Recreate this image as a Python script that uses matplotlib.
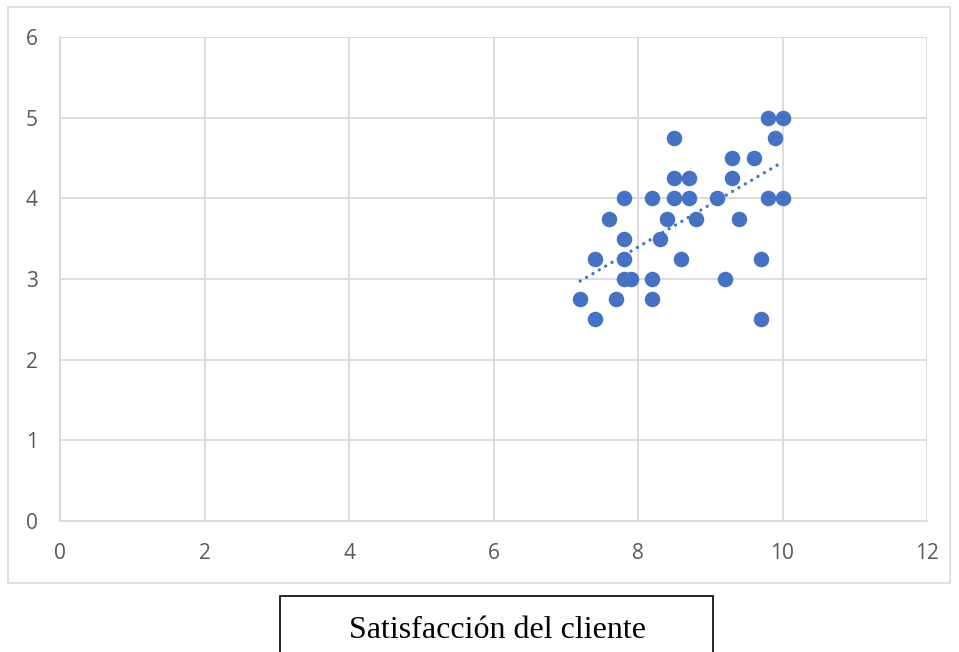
import matplotlib.pyplot as plt
from matplotlib.patches import Rectangle

# satisfaction score vs. rating, one point per customer
satisfaccion = [9.8, 10, 9.9, 8.5, 9.3, 9.6, 8.5, 8.7, 9.3,
                7.8, 8.2, 8.5, 8.7, 9.1, 9.8, 10,
                7.6, 8.4, 8.8, 9.4, 7.8, 8.3,
                7.4, 7.8, 8.6, 9.7,
                7.8, 7.9, 8.2, 9.2,
                7.2, 7.7, 8.2, 7.4, 9.7]
valoracion = [5, 5, 4.75, 4.75, 4.5, 4.5, 4.25, 4.25, 4.25,
              4, 4, 4, 4, 4, 4, 4,
              3.75, 3.75, 3.75, 3.75, 3.5, 3.5,
              3.25, 3.25, 3.25, 3.25,
              3, 3, 3, 3,
              2.75, 2.75, 2.75, 2.5, 2.5]

# linear trend line (slope, intercept)
pendiente = 0.527
intercepto = -0.82

x_ticks = [0, 2, 4, 6, 8, 10, 12]
y_ticks = [0, 1, 2, 3, 4, 5, 6]
titulo = 'Satisfacción del cliente'

blue = '#4472C4'
grid_gray = '#d9d9d9'
text_gray = '#595959'

W, H = 959, 652
fig = plt.figure(figsize=(W / 100, H / 100), dpi=100)

# outer chart frame
fig.patches.append(Rectangle((8 / W, (H - 583) / H), 942 / W, 576 / H,
                             transform=fig.transFigure, fill=False,
                             edgecolor=grid_gray, linewidth=1.2))

ax = fig.add_axes([60 / W, (H - 521) / H, 867 / W, 484 / H])
ax.set_xlim(0, 12)
ax.set_ylim(0, 6)
ax.set_xticks(x_ticks)
ax.set_yticks(y_ticks)
ax.grid(True, color=grid_gray, linewidth=1.3)
ax.set_axisbelow(True)
for side in ['top', 'right']:
    ax.spines[side].set_visible(False)
for side in ['left', 'bottom']:
    ax.spines[side].set_color(grid_gray)
    ax.spines[side].set_linewidth(1.3)
ax.tick_params(length=0, labelsize=15, labelcolor=text_gray)
ax.tick_params(axis='x', pad=16)
ax.tick_params(axis='y', pad=16)
for lab in ax.get_xticklabels() + ax.get_yticklabels():
    lab.set_family('Open Sans')

ax.scatter(satisfaccion, valoracion, s=125, color=blue, zorder=3, linewidths=0)

xs = [min(satisfaccion), max(satisfaccion)]
ax.plot(xs, [pendiente * x + intercepto for x in xs], color=blue,
        linestyle=(0, (0.01, 2.2)), linewidth=2.4,
        dash_capstyle='round', zorder=4)

# caption box below the chart
fig.patches.append(Rectangle((280 / W, -0.05), 433 / W, (H - 596) / H + 0.05,
                             transform=fig.transFigure, fill=False,
                             edgecolor='black', linewidth=1.2))
fig.text(497 / W, (H - 630) / H, titulo, family='Liberation Serif',
         fontsize=23, ha='center', va='center')

fig.savefig('out.png', dpi=100)
